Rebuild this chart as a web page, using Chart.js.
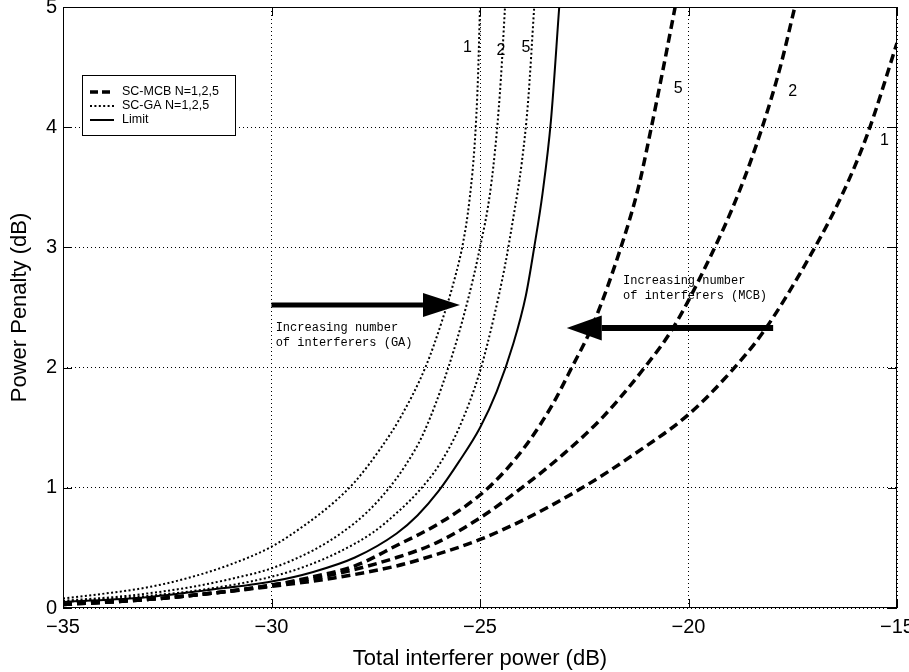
<!DOCTYPE html>
<html>
<head>
<meta charset="utf-8">
<script src="https://cdn.jsdelivr.net/npm/chart.js@4.4.0/dist/chart.umd.min.js"></script>
<style>
  html, body { margin: 0; padding: 0; background: #fff; }
</style>
</head>
<body>
<canvas id="chart" width="909" height="672" style="width:909px;height:672px"></canvas>
<script>
// values (x: total interferer power in dB, y: power penalty in dB)
var mcb1X = [-35, -33, -31.5, -30, -28.5, -27, -26, -25, -23.8, -22.5, -21.3, -20, -19, -18.2, -17.05, -16.3, -15.7, -15.0];
var mcb1Y = [0.03, 0.07, 0.12, 0.18, 0.25, 0.35, 0.45, 0.57, 0.76, 1.01, 1.28, 1.61, 1.96, 2.30, 2.95, 3.45, 3.95, 4.7];

var mcb2X = [-35, -33, -31.5, -30, -28.5, -27, -26, -25, -24, -23, -22.05, -21.1, -20.37, -19.48, -18.8, -18.25, -17.8, -17.45];
var mcb2Y = [0.03, 0.07, 0.12, 0.19, 0.28, 0.42, 0.55, 0.75, 1.0, 1.28, 1.59, 1.98, 2.33, 2.92, 3.45, 3.98, 4.5, 5.0];

var mcb5X = [-35, -33, -31.5, -30, -29, -28, -27, -26, -25, -24.4, -23.8, -23.25, -22.8, -22.3, -21.64, -21.2, -20.92, -20.6, -20.32];
var mcb5Y = [0.03, 0.07, 0.12, 0.19, 0.26, 0.35, 0.52, 0.70, 0.94, 1.14, 1.40, 1.70, 2.0, 2.35, 2.98, 3.5, 3.95, 4.5, 5.0];

var ga1X = [-35, -34, -33, -32, -31, -30, -29.2, -28.5, -28, -27.4, -26.9, -26.3, -25.9, -25.6, -25.4, -25.25, -25.12, -25.05, -25.0];
var ga1Y = [0.08, 0.12, 0.17, 0.25, 0.36, 0.51, 0.69, 0.88, 1.05, 1.32, 1.59, 2.01, 2.40, 2.75, 3.05, 3.4, 3.9, 4.4, 5.0];

var ga2X = [-35, -33.5, -32, -31, -30, -29, -28.3, -27.7, -27.2, -26.8, -26.36, -25.76, -25.3, -25.0, -24.76, -24.6, -24.5, -24.4];
var ga2Y = [0.06, 0.10, 0.17, 0.24, 0.33, 0.48, 0.63, 0.80, 0.99, 1.18, 1.45, 2.0, 2.55, 3.0, 3.45, 3.95, 4.4, 5.0];

var ga5X = [-35, -33, -31.5, -30, -29.16, -28.36, -27.56, -27.0, -26.5, -26.0, -25.5, -25.0, -24.68, -24.4, -24.2, -24.0, -23.85, -23.7];
var ga5Y = [0.05, 0.10, 0.16, 0.26, 0.35, 0.47, 0.63, 0.79, 0.96, 1.18, 1.50, 1.97, 2.40, 2.85, 3.25, 3.70, 4.2, 5.0];

var limitX = [-35, -33, -31.5, -30, -29, -28, -27, -26.5, -26, -25.5, -25, -24.6, -24.2, -23.9, -23.7, -23.5, -23.3, -23.1];
var limitY = [0.05, 0.09, 0.15, 0.22, 0.30, 0.42, 0.62, 0.77, 0.97, 1.22, 1.50, 1.80, 2.20, 2.60, 3.0, 3.45, 4.05, 5.0];

var xTicks = [-35, -30, -25, -20, -15];
var yTicks = [0, 1, 2, 3, 4, 5];

var legendLabels = ['SC-MCB N=1,2,5', 'SC-GA N=1,2,5', 'Limit'];

// curve labels (N) placed in data coordinates
var curveLabels = [
    {text: '1', x: -25.3, y: 4.66},
    {text: '2', x: -24.5, y: 4.64},
    {text: '5', x: -23.9, y: 4.66},
    {text: '5', x: -20.25, y: 4.32},
    {text: '2', x: -17.5, y: 4.30},
    {text: '1', x: -15.3, y: 3.89}
];

var arrows = [
    {from: [-30, 2.52], to: [-25.48, 2.52], shaft: 5, head: 37, half: 12},
    {from: [-17.97, 2.33], to: [-22.92, 2.33], shaft: 6, head: 35, half: 12.5}
];

var notes = [
    {lines: ['Increasing number', 'of interferers (GA)'], x: -29.9, y: 2.33},
    {lines: ['Increasing number', 'of interferers (MCB)'], x: -21.57, y: 2.72}
];

function pts(xs, ys) {
    return xs.map(function (x, i) { return {x: x, y: ys[i]}; });
}

var dashMCB = [9, 5];
var dotGA = [2, 2.4];

function mcbSet(xs, ys) {
    return {label: 'SC-MCB', data: pts(xs, ys), borderColor: '#000', borderWidth: 3.5, borderDash: dashMCB, pointRadius: 0, fill: false, cubicInterpolationMode: 'monotone'};
}
function gaSet(xs, ys) {
    return {label: 'SC-GA', data: pts(xs, ys), borderColor: '#000', borderWidth: 2, borderDash: dotGA, pointRadius: 0, fill: false, cubicInterpolationMode: 'monotone'};
}

var extras = {
    id: 'extras',
    afterDraw: function (chart) {
        var ctx = chart.ctx, xs = chart.scales.x, ys = chart.scales.y, a = chart.chartArea;
        ctx.save();
        // box and inward ticks
        ctx.strokeStyle = '#000';
        ctx.lineWidth = 1;
        ctx.setLineDash([]);
        ctx.strokeRect(a.left + 0.5, a.top + 0.5, a.right - a.left - 1, a.bottom - a.top - 1);
        ctx.beginPath();
        xTicks.forEach(function (v) {
            var px = Math.round(xs.getPixelForValue(v)) + 0.5;
            ctx.moveTo(px, a.bottom); ctx.lineTo(px, a.bottom - 9);
            ctx.moveTo(px, a.top); ctx.lineTo(px, a.top + 9);
        });
        yTicks.forEach(function (v) {
            var py = Math.round(ys.getPixelForValue(v)) + 0.5;
            ctx.moveTo(a.left, py); ctx.lineTo(a.left + 9, py);
            ctx.moveTo(a.right, py); ctx.lineTo(a.right - 9, py);
        });
        ctx.stroke();

        // arrows
        ctx.fillStyle = '#000';
        arrows.forEach(function (ar) {
            var x0 = xs.getPixelForValue(ar.from[0]), y0 = ys.getPixelForValue(ar.from[1]);
            var x1 = xs.getPixelForValue(ar.to[0]);
            var dir = x1 > x0 ? 1 : -1;
            var base = x1 - dir * ar.head;
            ctx.lineWidth = ar.shaft;
            ctx.beginPath(); ctx.moveTo(x0, y0); ctx.lineTo(base, y0); ctx.stroke();
            ctx.beginPath();
            ctx.moveTo(x1, y0);
            ctx.lineTo(base, y0 - ar.half);
            ctx.lineTo(base, y0 + ar.half);
            ctx.closePath();
            ctx.fill();
        });

        // notes
        ctx.font = '12px "Liberation Mono", "DejaVu Sans Mono", monospace';
        ctx.textAlign = 'left';
        ctx.textBaseline = 'middle';
        notes.forEach(function (n) {
            var px = xs.getPixelForValue(n.x), py = ys.getPixelForValue(n.y);
            n.lines.forEach(function (t, i) { ctx.fillText(t, px, py + i * 15); });
        });

        // curve labels
        ctx.font = '16px "Liberation Sans", Arial, sans-serif';
        ctx.textAlign = 'center';
        curveLabels.forEach(function (c) {
            ctx.fillText(c.text, xs.getPixelForValue(c.x), ys.getPixelForValue(c.y));
        });

        // legend box
        var bx = 82, by = 75, bw = 153, bh = 60;
        ctx.fillStyle = '#fff';
        ctx.fillRect(bx, by, bw, bh);
        ctx.lineWidth = 1;
        ctx.strokeRect(bx + 0.5, by + 0.5, bw, bh);
        var rows = [
            {w: 3.5, dash: [8, 4]},
            {w: 2, dash: dotGA},
            {w: 2, dash: []}
        ];
        ctx.font = '12.5px "Liberation Sans", Arial, sans-serif';
        ctx.textAlign = 'left';
        ctx.fillStyle = '#000';
        rows.forEach(function (r, i) {
            var ry = by + 17 + i * 14;
            ctx.lineWidth = r.w;
            ctx.setLineDash(r.dash);
            ctx.beginPath(); ctx.moveTo(bx + 8, ry); ctx.lineTo(bx + 32, ry); ctx.stroke();
            ctx.setLineDash([]);
            ctx.fillText(legendLabels[i], bx + 40, ry);
        });
        ctx.restore();
    }
};

var tickFont = {family: '"Liberation Sans", Arial, sans-serif', size: 20};
var titleFont = {family: '"Liberation Sans", Arial, sans-serif', size: 22};

new Chart(document.getElementById('chart'), {
    type: 'line',
    data: {
        datasets: [
            mcbSet(mcb1X, mcb1Y),
            mcbSet(mcb2X, mcb2Y),
            mcbSet(mcb5X, mcb5Y),
            gaSet(ga1X, ga1Y),
            gaSet(ga2X, ga2Y),
            gaSet(ga5X, ga5Y),
            {label: 'Limit', data: pts(limitX, limitY), borderColor: '#000', borderWidth: 2, pointRadius: 0, fill: false, cubicInterpolationMode: 'monotone'}
        ]
    },
    options: {
        responsive: false,
        devicePixelRatio: 1,
        animation: false,
        layout: {padding: {top: 7, right: 12, left: 0, bottom: 0}},
        plugins: {
            legend: {display: false},
            tooltip: {enabled: false}
        },
        scales: {
            x: {
                type: 'linear',
                min: -35,
                max: -15,
                afterFit: function (s) {
                    s.height = 64;
                    s.paddingLeft = 0;
                    s.paddingRight = 0;
                },
                afterBuildTicks: function (s) { s.ticks = xTicks.map(function (v) { return {value: v}; }); },
                ticks: {
                    color: '#000',
                    font: tickFont,
                    padding: 7,
                    maxRotation: 0,
                    autoSkip: false,
                    callback: function (v) { return String(v).replace('-', '\u2212'); }
                },
                grid: {color: '#000', lineWidth: 1, drawTicks: false},
                border: {display: false, dash: [1, 3]},
                title: {display: true, text: 'Total interferer power (dB)', color: '#000', font: titleFont, padding: {top: 0, bottom: 0}}
            },
            y: {
                min: 0,
                max: 5,
                afterFit: function (s) {
                    s.width = 63;
                    s.paddingTop = 0;
                    s.paddingBottom = 0;
                },
                afterBuildTicks: function (s) { s.ticks = yTicks.map(function (v) { return {value: v}; }); },
                ticks: {color: '#000', font: tickFont, padding: 6},
                grid: {color: '#000', lineWidth: 1, drawTicks: false},
                border: {display: false, dash: [1, 3]},
                title: {display: true, text: 'Power Penalty (dB)', color: '#000', font: titleFont, padding: {top: 7, bottom: 0}}
            }
        }
    },
    plugins: [extras]
});
</script>
</body>
</html>
